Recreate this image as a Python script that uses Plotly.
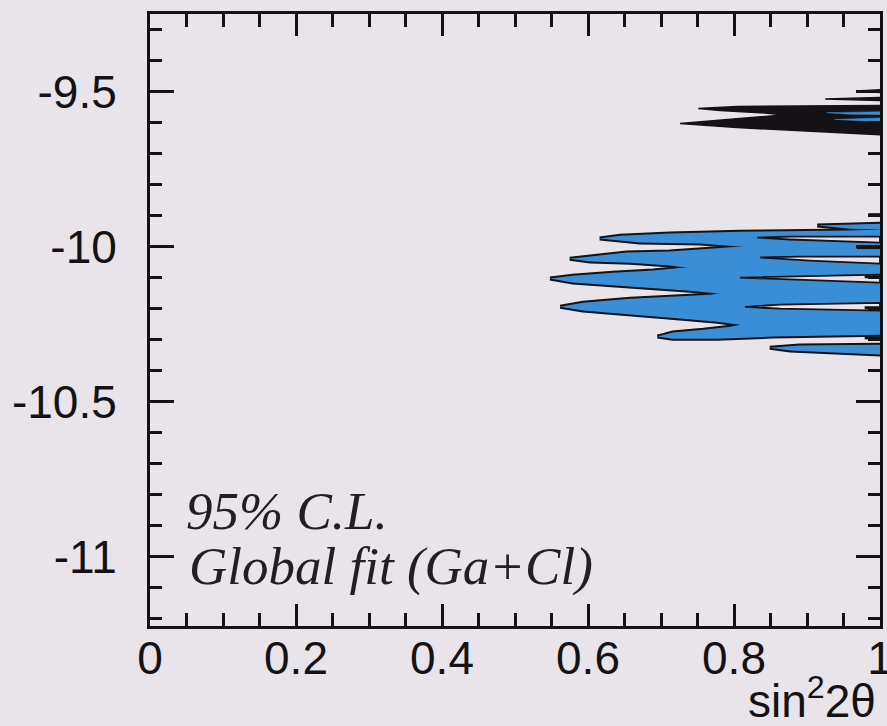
import plotly.graph_objects as go

# ---------------------------------------------------------------------------
# 95% C.L. allowed region, global fit (Ga+Cl)
# x: sin^2(2 theta), y: log10(delta m^2)
# Each contour piece is a finger: a tip point plus its upper and lower edges
# running to the right-hand boundary (sin^2 2theta = 1).
# ---------------------------------------------------------------------------

# blue allowed region (fingers opening towards small mixing)
finger_0 = dict(tip=(0.914, -9.932), top=[(1.0, -9.926)],
                bottom=[(0.959, -9.942), (1.0, -9.945)])
finger_1 = dict(tip=(0.616, -9.974),
                top=[(0.644, -9.965), (0.712, -9.958), (0.808, -9.952), (0.959, -9.948), (1.0, -9.945)],
                bottom=[(0.671, -9.987), (0.753, -9.990), (0.812, -10.000), (0.836, -10.016), (1.0, -10.023)])
finger_2 = dict(tip=(0.575, -10.039),
                top=[(0.603, -10.032), (0.653, -10.019), (0.712, -10.016), (0.771, -10.006), (0.826, -9.997), (1.0, -9.984)],
                bottom=[(0.603, -10.048), (0.658, -10.052), (0.712, -10.061), (0.744, -10.071), (0.781, -10.081), (1.0, -10.087)])
finger_3 = dict(tip=(0.548, -10.103),
                top=[(0.579, -10.094), (0.634, -10.084), (0.689, -10.077), (0.744, -10.065), (0.781, -10.058), (1.0, -10.052)],
                bottom=[(0.579, -10.116), (0.634, -10.126), (0.695, -10.135), (0.740, -10.142), (0.781, -10.152), (0.822, -10.165), (1.0, -10.171)])
finger_4 = dict(tip=(0.562, -10.194),
                top=[(0.593, -10.181), (0.658, -10.168), (0.716, -10.161), (0.767, -10.155), (0.795, -10.145), (1.0, -10.132)],
                bottom=[(0.593, -10.206), (0.658, -10.219), (0.726, -10.232), (0.777, -10.242), (0.808, -10.252), (0.836, -10.261), (1.0, -10.265)])
finger_5 = dict(tip=(0.695, -10.290),
                top=[(0.716, -10.277), (0.758, -10.268), (0.795, -10.258), (0.822, -10.245), (1.0, -10.235)],
                bottom=[(0.716, -10.297), (0.777, -10.297), (0.853, -10.290), (1.0, -10.284)])
finger_6 = dict(tip=(0.849, -10.326), top=[(0.890, -10.319), (1.0, -10.316)],
                bottom=[(0.877, -10.335), (1.0, -10.348)])
blue_fingers = [finger_0, finger_1, finger_2, finger_3, finger_4, finger_5, finger_6]

# excluded slivers cutting into the region from sin^2 2theta = 1
gap_1 = dict(tip=(0.832, -9.971), top=[(0.877, -9.968), (1.0, -9.968)],
             bottom=[(0.877, -9.977), (1.0, -9.987)])
gap_2 = dict(tip=(0.836, -10.035), top=[(0.890, -10.032), (1.0, -10.032)],
             bottom=[(0.904, -10.045), (1.0, -10.055)])
gap_3 = dict(tip=(0.808, -10.100), top=[(0.863, -10.097), (1.0, -10.090)],
             bottom=[(0.863, -10.106), (1.0, -10.116)])
gap_4 = dict(tip=(0.815, -10.194), top=[(0.863, -10.187), (1.0, -10.181)],
             bottom=[(0.863, -10.200), (1.0, -10.206)])
gaps = [gap_1, gap_2, gap_3, gap_4]

# dark (densely contoured) island near log dm^2 = -9.6
dark_1 = dict(tip=(0.751, -9.555), top=[(0.804, -9.548), (1.0, -9.545)],
              bottom=[(0.781, -9.561), (0.836, -9.568), (0.877, -9.577), (1.0, -9.584)])
dark_2 = dict(tip=(0.726, -9.603), top=[(0.753, -9.597), (0.808, -9.587), (0.877, -9.574), (1.0, -9.568)],
              bottom=[(0.804, -9.616), (0.890, -9.626), (1.0, -9.639)])
dark_3 = dict(tip=(0.925, -9.524), top=[(1.0, -9.519)], bottom=[(1.0, -9.529)])
dark_4 = dict(tip=(0.968, -9.498), top=[(1.0, -9.494)], bottom=[(1.0, -9.503)])
dark_pieces = [dark_1, dark_2, dark_3, dark_4]

streak_1 = dict(tip=(0.927, -9.568), top=[(1.0, -9.565)], bottom=[(0.959, -9.573), (1.0, -9.574)])
streak_2 = dict(tip=(0.938, -9.590), top=[(1.0, -9.585)], bottom=[(1.0, -9.597)])
streaks = [streak_1, streak_2]

# tiny contour pieces touching sin^2 2theta = 1
edge_dash_y = [-9.897, -10.003, -10.097, -10.197, -10.294]
edge_dash_x0 = [0.984, 0.968, 0.979, 0.979, 0.979]

# axis ticks
x_tick_vals = [0, 0.2, 0.4, 0.6, 0.8, 1.0]
x_tick_text = ["0", "0.2", "0.4", "0.6", "0.8", "1"]
y_tick_vals = [-9.5, -10.0, -10.5, -11.0]
y_tick_text = ["-9.5", "-10", "-10.5", "-11"]

BG = "#E8E4EA"
BLUE = "#3A8ED6"
INK = "#141214"


def outline(piece):
    tx, ty = piece["tip"]
    xs = [tx] + [p[0] for p in piece["top"]] + [p[0] for p in reversed(piece["bottom"])] + [tx]
    ys = [ty] + [p[1] for p in piece["top"]] + [p[1] for p in reversed(piece["bottom"])] + [ty]
    return xs, ys


def poly(piece, fill, line_color, line_width):
    xs, ys = outline(piece)
    return go.Scatter(x=xs, y=ys, mode="lines", fill="toself", fillcolor=fill,
                      line=dict(color=line_color, width=line_width),
                      hoverinfo="skip", showlegend=False)


fig = go.Figure()

# blue region: outlined pass, then an unoutlined pass so only the outer border stays
for f in blue_fingers:
    fig.add_trace(poly(f, BLUE, INK, 4))
for f in blue_fingers:
    fig.add_trace(poly(f, BLUE, BLUE, 0))

# slivers excluded from the right
for g in gaps:
    fig.add_trace(poly(g, BG, INK, 1.8))

# dark island
for d in dark_pieces:
    fig.add_trace(poly(d, INK, INK, 1.5))
for s in streaks:
    fig.add_trace(poly(s, BLUE, BLUE, 0.5))

# edge pieces
for y0, x0 in zip(edge_dash_y, edge_dash_x0):
    fig.add_trace(go.Scatter(x=[x0, 1.0], y=[y0, y0], mode="lines",
                             line=dict(color=INK, width=3), hoverinfo="skip", showlegend=False))

tick_font = dict(family="Liberation Sans, Arial, sans-serif", size=46, color=INK)
label_font = dict(family="Liberation Serif, Times New Roman, serif", size=53, color="#231F20")

fig.update_xaxes(range=[0, 1], tickvals=x_tick_vals, ticktext=x_tick_text,
                 ticks="inside", ticklen=22, tickwidth=3, tickcolor=INK,
                 showline=True, linewidth=3, linecolor=INK, mirror="ticks",
                 showgrid=False, zeroline=False, tickfont=tick_font,
                 ticklabelstandoff=-10, ticklabeloverflow="allow", automargin=False,
                 minor=dict(dtick=0.05, tick0=0, ticks="inside", ticklen=13,
                            tickwidth=3, tickcolor=INK, showgrid=False))
fig.update_yaxes(range=[-11.223, -9.25], tickvals=y_tick_vals, ticktext=y_tick_text,
                 ticks="inside", ticklen=24, tickwidth=3, tickcolor=INK,
                 showline=True, linewidth=3, linecolor=INK, mirror="ticks",
                 showgrid=False, zeroline=False, tickfont=tick_font,
                 ticklabelstandoff=21, ticklabeloverflow="allow", automargin=False,
                 minor=dict(dtick=0.1, tick0=-9.5, ticks="inside", ticklen=12,
                            tickwidth=3, tickcolor=INK, showgrid=False))

fig.add_annotation(x=0.047, y=-10.852, xref="x", yref="y", text="<i>95% C.L.</i>",
                   showarrow=False, xanchor="left", yanchor="middle", font=label_font)
fig.add_annotation(x=0.050, y=-11.030, xref="x", yref="y", text="<i>Global fit (Ga+Cl)</i>",
                   showarrow=False, xanchor="left", yanchor="middle", font=label_font)
fig.add_annotation(x=1.0, y=-0.118, xref="paper", yref="paper", text="sin<sup>2</sup>2θ",
                   showarrow=False, xanchor="right", yanchor="middle", font=tick_font,
                   xshift=-2)

fig.update_layout(width=887, height=726, margin=dict(l=150, r=7, t=14, b=100),
                  paper_bgcolor=BG, plot_bgcolor=BG, showlegend=False)

fig.write_html("out.html")
